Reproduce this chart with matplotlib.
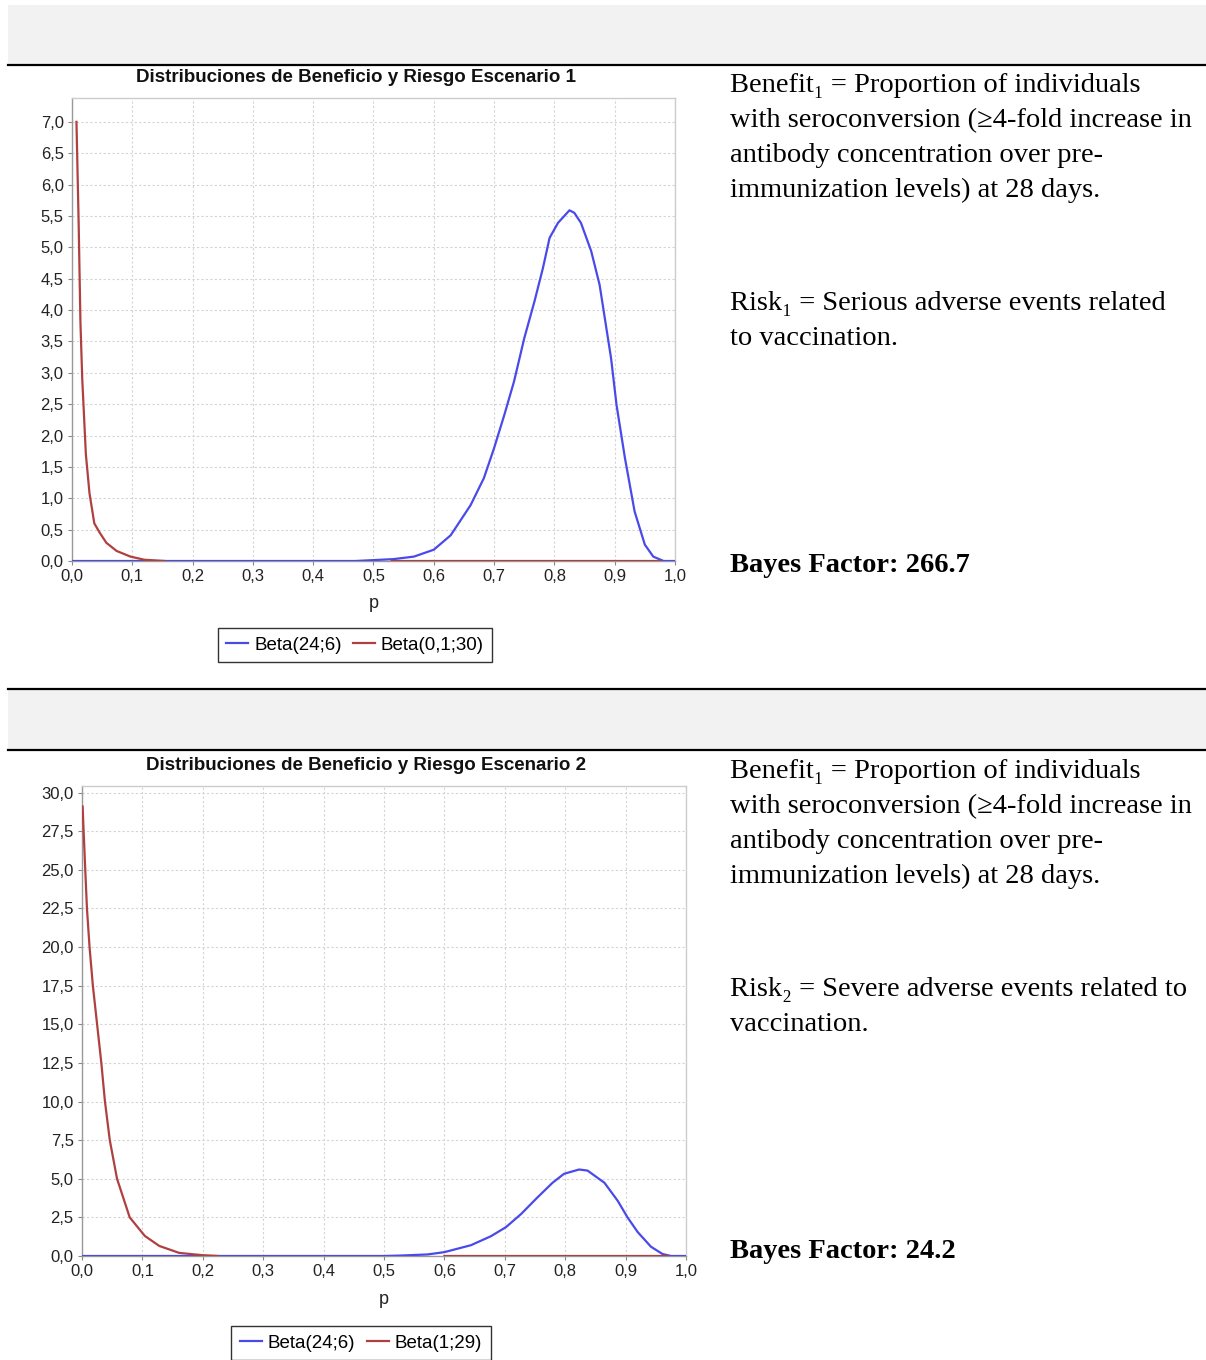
import matplotlib
matplotlib.use("Agg")
from matplotlib import pyplot as plt
from matplotlib.patches import Rectangle
from matplotlib.lines import Line2D
import numpy as np

W, H = 1206, 1360

# ---- data ----
# scenario 1
blue1_p = [0.0, 0.47, 0.533, 0.567, 0.60, 0.628, 0.661, 0.683, 0.70, 0.717, 0.733,
           0.75, 0.767, 0.781, 0.792, 0.806, 0.825, 0.833, 0.844, 0.861, 0.875,
           0.894, 0.903, 0.917, 0.933, 0.95, 0.964, 0.981, 1.0]
blue1_v = [0.0, 0.0, 0.03, 0.07, 0.18, 0.41, 0.89, 1.32, 1.80, 2.33, 2.86,
           3.55, 4.14, 4.67, 5.15, 5.39, 5.59, 5.55, 5.39, 4.94, 4.40,
           3.23, 2.49, 1.64, 0.79, 0.26, 0.07, 0.0, 0.0]
red1_p = [0.0074, 0.011, 0.014, 0.017, 0.023, 0.029, 0.037, 0.046, 0.057, 0.074,
          0.097, 0.12, 0.154, np.nan, 0.53, 0.975]
red1_v = [7.0, 5.4, 3.8, 2.9, 1.7, 1.08, 0.6, 0.45, 0.29, 0.16,
          0.07, 0.02, 0.0, np.nan, 0.0, 0.0]

# scenario 2
blue2_p = [0.0, 0.50, 0.528, 0.572, 0.60, 0.644, 0.677, 0.702, 0.727, 0.754, 0.779,
           0.798, 0.823, 0.837, 0.865, 0.887, 0.903, 0.92, 0.942, 0.961, 0.975, 1.0]
blue2_v = [0.0, 0.0, 0.03, 0.1, 0.25, 0.7, 1.28, 1.87, 2.72, 3.79, 4.74,
           5.32, 5.6, 5.53, 4.74, 3.57, 2.51, 1.55, 0.6, 0.13, 0.0, 0.0]
red2_p = [0.001, 0.0027, 0.0054, 0.0082, 0.0125, 0.018, 0.025, 0.032, 0.038, 0.046,
          0.058, 0.079, 0.104, 0.128, 0.161, 0.20, 0.226, np.nan, 0.60, 0.97]
red2_v = [29.1, 27.5, 25.0, 22.5, 20.0, 17.5, 15.0, 12.5, 10.0, 7.5,
          5.0, 2.5, 1.3, 0.65, 0.2, 0.05, 0.0, np.nan, 0.0, 0.0]

x_ticks = [round(0.1 * i, 1) for i in range(11)]
y_ticks1 = [0.5 * i for i in range(15)]
y_ticks2 = [2.5 * i for i in range(13)]

titles = ["Distribuciones de Beneficio y Riesgo Escenario 1",
          "Distribuciones de Beneficio y Riesgo Escenario 2"]
legend_labels = [["Beta(24;6)", "Beta(0,1;30)"], ["Beta(24;6)", "Beta(1;29)"]]

benefit_text = ("Benefit\u2081 = Proportion of individuals\n"
                "with seroconversion (\u22654-fold increase in\n"
                "antibody concentration over pre-\n"
                "immunization levels) at 28 days.")
risk_texts = ["Risk\u2081 = Serious adverse events related\nto vaccination.",
              "Risk\u2082 = Severe adverse events related to\nvaccination."]
bayes_texts = ["Bayes Factor: 266.7", "Bayes Factor: 24.2"]

BLUE = "#4a4aea"
RED = "#b04040"
SANS = ["Liberation Sans", "DejaVu Sans"]
SERIF = ["Liberation Serif", "DejaVu Serif"]


def fx(px):
    return px / W


def fy(py):
    return 1 - py / H


def band(fig, top, bottom):
    fig.add_artist(Rectangle((fx(8), fy(bottom)), fx(W - 8), (bottom - top) / H,
                             transform=fig.transFigure, facecolor="#f2f2f2",
                             edgecolor="none", zorder=0))


def hline(fig, y):
    fig.add_artist(Line2D([fx(8), 1], [fy(y), fy(y)], transform=fig.transFigure,
                          color="black", lw=1.6))


def draw_chart(fig, box, blue, red, ticks, ymax, title, labels, title_y, xlab_y, leg_xy):
    left, right, top, bottom = box
    ax = fig.add_axes([fx(left), fy(bottom), (right - left) / W, (bottom - top) / H])
    ax.plot(blue[0], blue[1], color=BLUE, lw=1.6, label=labels[0], zorder=3)
    ax.plot(red[0], red[1], color=RED, lw=1.6, label=labels[1], zorder=3)
    ax.set_xlim(0, 1)
    ax.set_ylim(0, ymax)
    ax.set_xticks(x_ticks)
    ax.set_yticks(ticks)
    ax.set_xticklabels([f"{t:.1f}".replace(".", ",") for t in x_ticks],
                       family=SANS, fontsize=12)
    ax.set_yticklabels([f"{t:.1f}".replace(".", ",") for t in ticks],
                       family=SANS, fontsize=12)
    ax.tick_params(direction="out", length=3, color="#888888", labelcolor="#222222", pad=3)
    ax.grid(True, color="#d4d4d4", linestyle=(0, (2, 2)), lw=0.8)
    for s in ["top", "right"]:
        ax.spines[s].set_color("#cccccc")
    for s in ["left", "bottom"]:
        ax.spines[s].set_color("#999999")
    for s in ax.spines.values():
        s.set_linewidth(1.0)
    fig.text(fx((left + right) / 2 - 18), fy(title_y), title, ha="center", va="center",
             family=SANS, fontsize=13.5, fontweight="bold", color="#111111")
    fig.text(fx((left + right) / 2), fy(xlab_y), "p", ha="center", va="center",
             family=SANS, fontsize=13, color="#222222")
    lx, ly = leg_xy
    leg = ax.legend(loc="center",
                    bbox_to_anchor=((lx - left) / (right - left), (bottom - ly) / (bottom - top)),
                    ncol=2, frameon=True, fancybox=False, edgecolor="black",
                    prop={"family": SANS, "size": 13.5}, handlelength=1.2,
                    handletextpad=0.3, columnspacing=0.6, borderpad=0.45,
                    borderaxespad=0)
    leg.get_frame().set_linewidth(1.0)
    return ax


def draw_text(fig, top_y, risk, bayes):
    fig.text(fx(730), fy(top_y), benefit_text, ha="left", va="top", family=SERIF,
             fontsize=20.5, linespacing=1.53, color="black")
    fig.text(fx(730), fy(top_y + 218), risk, ha="left", va="top", family=SERIF,
             fontsize=20.5, linespacing=1.53, color="black")
    fig.text(fx(730), fy(top_y + 492), bayes, ha="left", va="center", family=SERIF,
             fontsize=20.5, fontweight="bold", color="black")


def main():
    fig = plt.figure(figsize=(W / 100, H / 100), dpi=100)

    band(fig, 5, 64)
    hline(fig, 65)
    hline(fig, 689)
    band(fig, 690, 750)
    hline(fig, 750)

    draw_chart(fig, (72, 675, 98, 561), (blue1_p, blue1_v), (red1_p, red1_v),
               y_ticks1, 7.38, titles[0], legend_labels[0], 78, 604, (355, 645))
    draw_chart(fig, (82, 686, 786, 1256), (blue2_p, blue2_v), (red2_p, red2_v),
               y_ticks2, 30.43, titles[1], legend_labels[1], 765, 1300, (361, 1343))

    draw_text(fig, 73, risk_texts[0], bayes_texts[0])
    draw_text(fig, 759, risk_texts[1], bayes_texts[1])

    fig.savefig("out.png", dpi=100)


if __name__ == "__main__":
    main()
